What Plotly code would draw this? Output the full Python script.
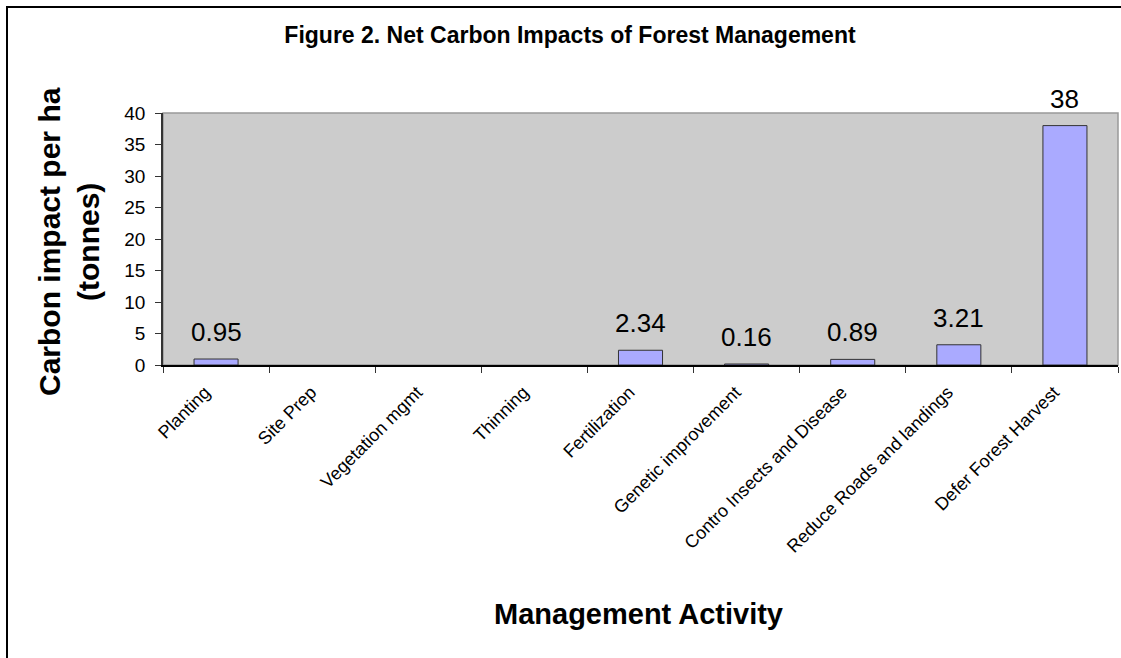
import plotly.graph_objects as go

# Net carbon impact (tonnes per ha) by forest management activity
activities = [
    "Planting",
    "Site Prep",
    "Vegetation mgmt",
    "Thinning",
    "Fertilization",
    "Genetic improvement",
    "Contro Insects and Disease",
    "Reduce Roads and landings",
    "Defer Forest Harvest",
]
carbon_impact = [0.95, None, None, None, 2.34, 0.16, 0.89, 3.21, 38]

y_ticks = [0, 5, 10, 15, 20, 25, 30, 35, 40]

FONT = "Arial, Liberation Sans, sans-serif"

W, H = 1121, 658
ML, MR, MT, MB = 163, 3, 113, 293
PW, PH = W - ML - MR, H - MT - MB


def px_x(px):
    return (px - ML) / PW


def px_y(py):
    return (H - MB - py) / PH


fig = go.Figure(
    go.Bar(
        x=activities,
        y=carbon_impact,
        marker=dict(color="#AAAAFF", line=dict(color="#333333", width=1)),
        cliponaxis=False,
        hoverinfo="x+y",
    )
)

# value labels above each bar
for name, val in zip(activities, carbon_impact):
    if val is None:
        continue
    fig.add_annotation(
        x=name, y=val, text=f"{val:g}", showarrow=False,
        yanchor="bottom", yshift=10,
        font=dict(family=FONT, size=26, color="black"),
    )

# axis titles
fig.add_annotation(
    xref="paper", yref="paper", x=px_x(69), y=px_y(242),
    text="<b>Carbon impact per ha<br>(tonnes)</b>", textangle=-90,
    showarrow=False, xanchor="center", yanchor="middle",
    font=dict(family=FONT, size=30, color="black"),
)
fig.add_annotation(
    xref="paper", yref="paper", x=px_x(638), y=px_y(614),
    text="<b>Management Activity</b>", showarrow=False,
    xanchor="center", yanchor="middle",
    font=dict(family=FONT, size=29, color="black"),
)

# chart frame (left and top edges) and plot-area outline
fig.add_shape(type="line", xref="paper", yref="paper",
              x0=px_x(7), x1=px_x(7), y0=px_y(7), y1=px_y(H + 5),
              line=dict(color="black", width=2))
fig.add_shape(type="line", xref="paper", yref="paper",
              x0=px_x(6), x1=px_x(W + 5), y0=px_y(7), y1=px_y(7),
              line=dict(color="black", width=2))
fig.add_shape(type="rect", xref="paper", yref="paper",
              x0=0, x1=1, y0=0, y1=1, layer="below",
              line=dict(color="#999999", width=1.5))

fig.update_layout(
    width=W, height=H,
    margin=dict(l=ML, r=MR, t=MT, b=MB),
    paper_bgcolor="white",
    plot_bgcolor="#CCCCCC",
    bargap=0.585,
    showlegend=False,
    title=dict(
        text="<b>Figure 2. Net Carbon Impacts of Forest Management</b>",
        xref="container", yref="container", x=570 / W, y=1 - 35 / H,
        xanchor="center", yanchor="middle",
        font=dict(family=FONT, size=23, color="black"),
    ),
    font=dict(family=FONT, color="black"),
)

fig.update_xaxes(
    type="category",
    showline=True, linecolor="black", linewidth=1.5,
    ticks="outside", tickson="boundaries", ticklen=6, tickcolor="#333333",
    tickangle=-45, ticklabelstandoff=8, ticklabelshift=-11,
    tickfont=dict(family=FONT, size=18, color="black"),
    showgrid=False, zeroline=False, fixedrange=True,
)
fig.update_yaxes(
    range=[0, 40], tickvals=y_ticks,
    showline=True, linecolor="#333333", linewidth=1.5,
    ticks="outside", ticklen=6, tickcolor="#333333", ticklabelstandoff=6,
    tickfont=dict(family=FONT, size=19, color="black"),
    showgrid=False, zeroline=False, fixedrange=True,
)

fig.write_html("out.html")
